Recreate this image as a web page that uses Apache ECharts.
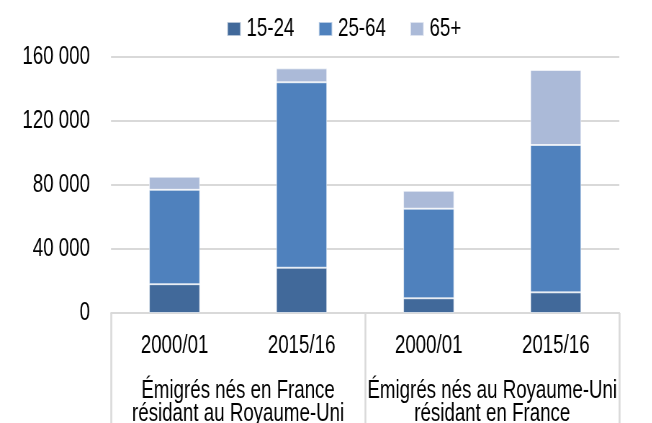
<!DOCTYPE html>
<html>
<head>
<meta charset="utf-8">
<script src="https://cdn.jsdelivr.net/npm/echarts@6/dist/echarts.min.js"></script>
<style>
  html, body { margin: 0; padding: 0; background: #fff; overflow: hidden; width: 652px; height: 423px; }
  /* the reference text is narrow and tall: draw wider, then squeeze horizontally */
  #chart { width: 906px; height: 423px; transform: scaleX(0.72); transform-origin: 0 0; }
</style>
</head>
<body>
<div id="chart"></div>
<script>
const years = ['2000/01', '2015/16', '2000/01', '2015/16'];
const groups = ['Émigrés nés en France\nrésidant au Royaume-Uni', 'Émigrés nés au Royaume-Uni\nrésidant en France'];
const ages15to24 = [18000, 28300, 9200, 12900];
const ages25to64 = [59000, 115900, 56000, 92100];
const ages65plus = [8200, 8700, 11200, 46900];
const yTicks = [0, 40000, 80000, 120000, 160000];

const sx = 0.72;
const font = '"Liberation Sans", Arial, sans-serif';
const fs = 26;
const gridGrey = '#d9d9d9';

let myChart = echarts.init(document.getElementById('chart'));

const bar = (name, data, color) => ({
  name: name,
  type: 'bar',
  stack: 'total',
  barWidth: '40%',
  data: data,
  itemStyle: { color: color, borderColor: 'rgba(255,255,255,0.6)', borderWidth: 1 },
});

let option = {
  animation: false,
  textStyle: { fontFamily: font },
  legend: {
    top: 11,
    left: 223 / sx,
    itemWidth: 18.6,
    itemHeight: 14,
    itemGap: 33,
    icon: 'rect',
    textStyle: { fontSize: fs, lineHeight: 26, color: '#000', fontFamily: font, padding: [0, 0, 0, 3] },
    data: ['15-24', '25-64', '65+'],
  },
  grid: { left: 111 / sx, right: 33 / sx, top: 57, bottom: 110, outerBoundsMode: 'none' },
  xAxis: [
    {
      type: 'category',
      data: years,
      axisLine: { lineStyle: { color: gridGrey, width: 2 } },
      axisTick: { show: false },
      axisLabel: { color: '#000', fontSize: fs, lineHeight: 23, margin: 21, interval: 0, fontFamily: font },
    },
    {
      type: 'category',
      data: groups,
      position: 'bottom',
      axisLine: { show: false },
      axisTick: { show: true, interval: 0, length: 115, lineStyle: { color: gridGrey, width: 2.5 } },
      axisLabel: { color: '#000', fontSize: fs, lineHeight: 23, margin: 66, interval: 0, fontFamily: font },
    },
  ],
  yAxis: {
    type: 'value',
    min: yTicks[0],
    max: yTicks[yTicks.length - 1],
    interval: 40000,
    axisLine: { show: false },
    axisTick: { show: false },
    splitLine: { lineStyle: { color: gridGrey, width: 2 } },
    axisLabel: {
      color: '#000',
      fontSize: fs,
      margin: 21 / sx,
      fontFamily: font,
      formatter: (v) => String(v).replace(/\B(?=(\d{3})+(?!\d))/g, ' '),
    },
  },
  series: [
    bar('15-24', ages15to24, '#41699a'),
    bar('25-64', ages25to64, '#4f81bd'),
    bar('65+', ages65plus, '#abbad8'),
  ],
};

myChart.setOption(option);
</script>
</body>
</html>
